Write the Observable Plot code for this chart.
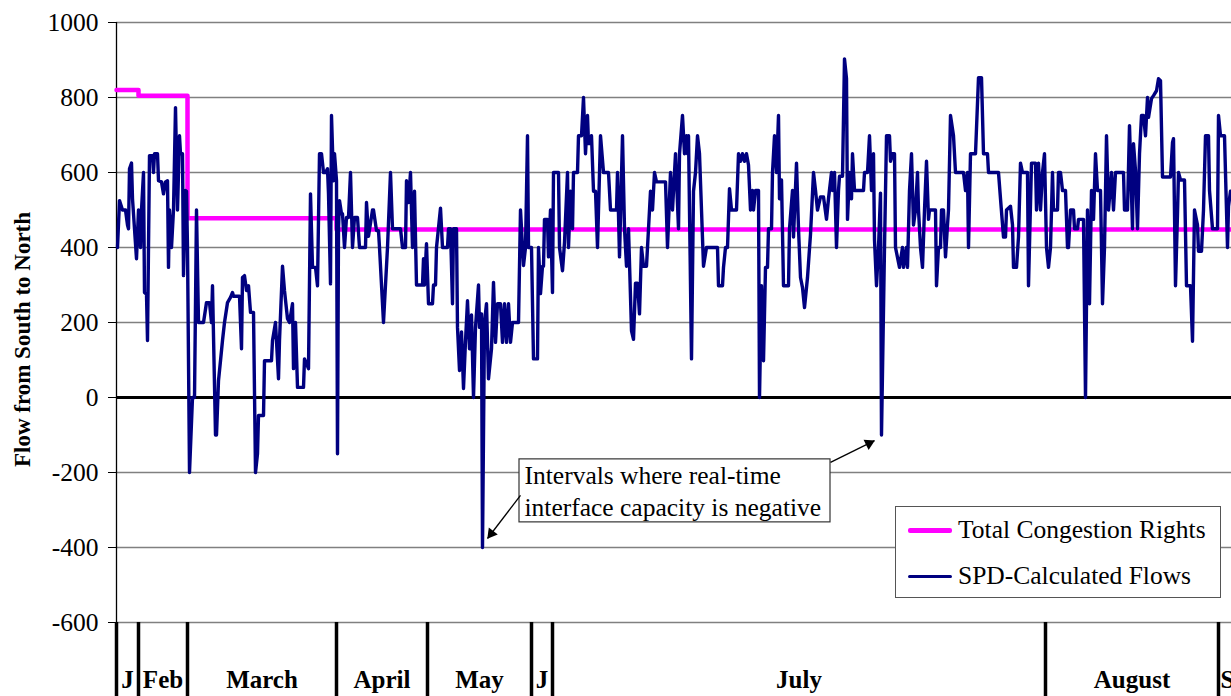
<!DOCTYPE html>
<html><head><meta charset="utf-8">
<script src="https://cdn.jsdelivr.net/npm/d3@7"></script>
<script src="https://cdn.jsdelivr.net/npm/@observablehq/plot@0.6"></script>
<style>
body{margin:0;background:#fff;}
#wrap{position:relative;width:1231px;height:696px;overflow:hidden;font-family:"Liberation Serif","Times New Roman",serif;}
#wrap svg{display:block;}
.legend{position:absolute;left:895px;top:506px;width:326px;height:92px;box-sizing:border-box;border:1.3px solid #555;background:#fff;}
.item{position:absolute;left:12px;display:flex;align-items:center;font-size:25.5px;white-space:nowrap;color:#000;line-height:1;}
.sw{width:44px;margin-right:6px;}
</style></head><body><div id="wrap"></div>
<script>
// ---- data ----
const months = ["J","Feb","March","April","May","J","July","August","S"];
const monthStart = [0,22,71,220,311,415,436,929,1102];   // interval index where each month begins
const lastInterval = 1115;
const rightsByMonth = [820,805,478,448,448,448,448,448,448];
const yTicks = [-600,-400,-200,0,200,400,600,800,1000];
const seriesNames = ["Total Congestion Rights","SPD-Calculated Flows"];
const annotationLines = ["Intervals where real-time","interface capacity is negative"];
// [interval, MW]
const spdFlows = [
[1,400],[3,525],[6,500],[9,500],[11,460],[12,450],[13,610],[15,625],[16,530],[20,370],
[22,500],[24,400],[25,500],[27,600],[28,280],[30,275],[31,152],[33,645],[36,645],[37,600],
[38,650],[41,650],[42,578],[45,575],[47,543],[49,575],[51,578],[52,347],[53,500],[55,400],
[57,500],[59,773],[61,500],[63,698],[64,650],[66,650],[67,325],[69,552],[70,550],[71,400],
[73,-200],[76,0],[78,0],[80,500],[82,200],[87,200],[90,253],[93,253],[95,200],[96,298],
[99,-100],[100,-100],[102,45],[104,98],[106,152],[108,200],[111,253],[114,267],[116,280],[117,270],
[123,270],[125,130],[126,320],[128,325],[130,285],[132,298],[134,227],[137,227],[139,-200],[141,-150],
[142,-48],[147,-48],[148,98],[155,98],[156,152],[159,200],[162,50],[163,152],[166,350],[168,285],
[171,210],[173,200],[176,250],[177,77],[179,200],[181,27],[187,27],[188,103],[192,77],[194,543],
[196,347],[199,347],[201,298],[203,650],[205,650],[207,600],[209,600],[211,610],[212,543],[214,303],
[215,752],[217,578],[218,650],[220,578],[221,-150],[222,450],[223,525],[225,490],[226,490],[228,400],
[230,480],[232,480],[234,600],[236,400],[238,480],[241,480],[243,400],[249,400],[250,520],[252,430],
[256,500],[257,500],[260,445],[262,445],[263,400],[267,200],[271,400],[274,600],[276,450],[284,450],
[286,400],[289,400],[290,578],[292,520],[294,600],[296,400],[298,550],[300,300],[306,300],[307,370],
[308,300],[310,410],[312,250],[316,250],[317,300],[319,300],[320,400],[324,505],[326,400],[331,400],
[332,450],[334,450],[336,250],[337,450],[340,450],[341,187],[343,72],[345,175],[347,24],[349,150],
[351,258],[353,130],[355,220],[357,0],[359,187],[362,300],[363,187],[365,223],[366,-400],[368,200],
[370,250],[372,50],[375,130],[377,307],[379,147],[381,250],[384,250],[386,147],[388,250],[390,147],
[392,250],[394,147],[396,200],[402,200],[404,500],[407,352],[409,400],[411,698],[412,400],[415,400],
[417,103],[421,103],[422,400],[424,277],[426,350],[427,350],[428,475],[431,475],[432,375],[434,500],
[436,280],[437,600],[442,600],[443,400],[446,338],[448,413],[451,600],[452,400],[454,550],[456,450],
[457,600],[461,600],[462,698],[465,698],[467,800],[469,650],[471,752],[472,677],[474,677],[475,698],
[477,550],[479,550],[481,400],[484,698],[487,600],[492,600],[494,500],[500,500],[501,600],[503,375],
[506,698],[508,450],[510,350],[512,450],[515,178],[517,155],[519,305],[521,305],[523,223],[525,400],
[527,350],[530,350],[532,450],[534,550],[536,500],[538,600],[540,575],[549,575],[551,400],[554,600],
[556,500],[559,650],[562,450],[563,650],[566,752],[568,650],[570,698],[571,650],[572,698],[575,103],
[577,550],[579,600],[581,698],[583,650],[585,500],[587,350],[590,400],[601,400],[602,298],[606,298],
[607,347],[609,400],[611,400],[613,557],[615,500],[620,500],[622,650],[624,630],[626,650],[628,630],
[630,650],[632,620],[634,500],[636,552],[637,500],[639,552],[642,552],[643,0],[645,298],[647,98],
[649,347],[651,347],[652,450],[655,450],[656,600],[658,698],[660,600],[662,752],[663,530],[665,580],
[667,298],[672,298],[673,450],[676,552],[677,428],[680,625],[682,450],[684,320],[686,293],[688,240],
[691,320],[694,435],[697,600],[699,552],[701,500],[704,535],[707,535],[710,475],[712,530],[715,600],
[716,552],[718,600],[720,400],[722,552],[723,590],[726,590],[728,903],[730,850],[731,475],[733,600],
[735,530],[736,650],[738,552],[747,552],[748,600],[751,600],[753,698],[755,552],[757,650],[758,420],
[760,298],[762,400],[764,545],[765,-100],[768,400],[770,698],[773,698],[774,630],[776,650],[778,650],
[779,400],[783,347],[786,400],[787,347],[790,400],[791,347],[793,552],[795,650],[797,460],[799,500],
[801,600],[802,500],[804,400],[806,347],[808,500],[810,630],[812,475],[813,500],[819,500],[820,298],
[822,400],[824,400],[825,500],[827,500],[829,375],[831,460],[832,500],[834,752],[837,698],[839,600],
[847,600],[849,552],[851,600],[852,400],[854,650],[859,650],[862,853],[865,853],[867,650],[871,650],
[872,600],[882,600],[884,530],[887,428],[889,428],[890,500],[894,510],[896,460],[897,347],[900,347],
[902,428],[904,625],[906,600],[911,600],[912,298],[915,625],[919,625],[920,500],[922,625],[924,500],
[926,600],[928,650],[930,400],[932,347],[934,400],[936,600],[937,500],[941,500],[942,600],[944,600],
[946,552],[949,552],[951,400],[952,400],[954,500],[957,500],[958,450],[961,450],[962,475],[967,475],
[969,0],[971,500],[973,250],[975,552],[977,475],[979,650],[981,552],[984,552],[986,250],[988,400],
[990,698],[992,500],[995,600],[997,500],[999,600],[1007,600],[1008,500],[1011,500],[1013,725],[1016,450],
[1017,677],[1019,605],[1021,450],[1023,650],[1025,752],[1027,752],[1029,698],[1031,800],[1032,747],[1035,797],
[1037,805],[1040,818],[1042,850],[1044,845],[1046,588],[1054,588],[1056,680],[1057,690],[1059,298],[1061,490],
[1062,600],[1064,580],[1068,580],[1070,298],[1074,298],[1076,150],[1078,500],[1081,460],[1082,390],[1085,390],
[1087,500],[1089,698],[1092,698],[1093,552],[1096,450],[1101,450],[1102,752],[1104,698],[1108,698],[1111,400],
[1112,510],[1114,550]
];

// ---- derived tables ----
const rights = monthStart.map((s, i) => ({x: s, y: rightsByMonth[i]}));
rights.push({x: lastInterval, y: rightsByMonth[rightsByMonth.length - 1]});
const flows = spdFlows.map(([x, y]) => ({x, y}));
const mids = [];
const midLabel = new Map();
for (let i = 0; i < months.length - 1; i++) {
  const m = (monthStart[i] + monthStart[i + 1]) / 2;
  mids.push(m); midLabel.set(m, months[i]);
}
const lastStart = monthStart[monthStart.length - 1];

const FONT = "Liberation Serif, Times New Roman, serif";
const navy = "#000080", magenta = "#FF00FF";

// annotation arrows (from box edge to the negative intervals)
const arrows = [
  {x1: 404, y1: -261, x2: 371, y2: -376, rot: 217.5, dx: 3.8, dy: -4.9},
  {x1: 714, y1: -173, x2: 758, y2: -115, rot: 63.4, dx: -5.5, dy: 2.8}
];

const chart = Plot.plot({
  width: 1231, height: 696,
  marginLeft: 116, marginRight: 0, marginTop: 22, marginBottom: 74,
  style: {fontFamily: FONT, fontSize: "25.5px", color: "#000", background: "#fff", overflow: "hidden"},
  x: {domain: [0, lastInterval]},
  y: {domain: [-600, 1000]},
  marks: [
    Plot.ruleY(yTicks, {stroke: "#808080", strokeWidth: 1.3}),
    Plot.ruleY([0], {stroke: "#000", strokeWidth: 3}),
    Plot.ruleX([0], {stroke: "#000", strokeWidth: 1.3}),
    Plot.axisY(yTicks, {tickSize: 8, tickPadding: 10, tickFormat: d => String(d), fontSize: 25.5, label: null}),
    Plot.axisX(monthStart, {anchor: "bottom", tickSize: 80, strokeWidth: 3.5, stroke: "#000", tickFormat: () => "", label: null}),
    Plot.axisX(mids, {anchor: "bottom", tickSize: 0, tickPadding: 48, tickFormat: d => midLabel.get(d), fontSize: 25, fontWeight: "bold", label: null}),
    Plot.axisX([lastStart], {anchor: "bottom", tickSize: 0, tickPadding: 48, tickFormat: () => months[months.length - 1], textAnchor: "start", dx: 2, fontSize: 25, fontWeight: "bold", label: null}),
    Plot.text(["Flow from South to North"], {frameAnchor: "left", textAnchor: "middle", lineAnchor: "middle", rotate: -90, dx: -94, dy: 17, fontSize: 23, fontWeight: "bold"}),
    Plot.line(rights, {x: "x", y: "y", curve: "step-after", stroke: magenta, strokeWidth: 4.5}),
    Plot.line(flows, {x: "x", y: "y", stroke: navy, strokeWidth: 3.4, strokeLinejoin: "round"}),
    Plot.rect([0], {x1: 403, x2: 714, y1: -165, y2: -333, fill: "#fff", stroke: "#333", strokeWidth: 1.2}),
    Plot.text([annotationLines[0]], {x: 408, y: -208, textAnchor: "start", lineAnchor: "middle", fontSize: 25.5}),
    Plot.text([annotationLines[1]], {x: 408, y: -293, textAnchor: "start", lineAnchor: "middle", fontSize: 25.5}),
    Plot.link(arrows, {x1: "x1", y1: "y1", x2: "x2", y2: "y2", stroke: "#000", strokeWidth: 1.3}),
    ...arrows.map(a => Plot.dot([a], {x: "x2", y: "y2", symbol: "triangle", r: 4.2, fill: "#000", stroke: "none", rotate: a.rot, dx: a.dx, dy: a.dy}))
  ]
});
const wrap = document.getElementById("wrap");
wrap.appendChild(chart);

const legend = document.createElement("div");
legend.className = "legend";
const colors = [magenta, navy];
const widths = [5, 3.5];
const tops = [23, 69];
seriesNames.forEach((name, i) => {
  const it = document.createElement("div");
  it.className = "item";
  it.style.top = (tops[i] - 13) + "px";
  it.style.height = "26px";
  const sw = document.createElement("span");
  sw.className = "sw";
  sw.style.borderTop = widths[i] + "px solid " + colors[i];
  sw.style.borderRadius = "2px";
  const tx = document.createElement("span");
  tx.textContent = name;
  it.appendChild(sw); it.appendChild(tx);
  legend.appendChild(it);
});
wrap.appendChild(legend);
</script></body></html>
